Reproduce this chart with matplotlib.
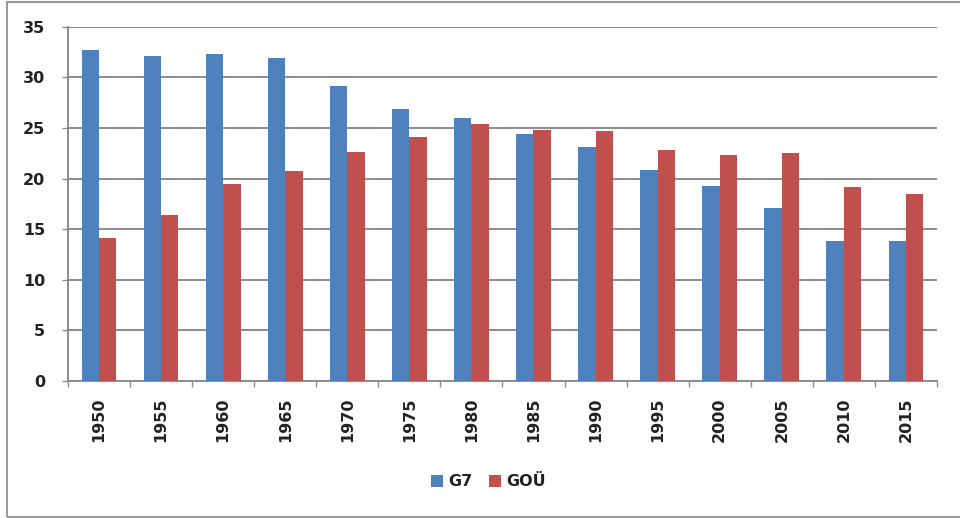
import numpy as np
import matplotlib.pyplot as plt
from matplotlib.patches import Rectangle

years = ["1950", "1955", "1960", "1965", "1970", "1975", "1980",
         "1985", "1990", "1995", "2000", "2005", "2010", "2015"]
g7 = [32.7, 32.15, 32.3, 31.95, 29.1, 26.85, 26.0,
      24.4, 23.1, 20.8, 19.3, 17.05, 13.8, 13.85]
gou = [14.1, 16.4, 19.45, 20.7, 22.6, 24.15, 25.4,
       24.8, 24.7, 22.85, 22.35, 22.5, 19.15, 18.45]

blue = "#4F81BD"
red = "#C0504D"
grid_col = "#8C8C8C"
text_col = "#222222"

plt.rcParams["font.weight"] = "bold"

fig = plt.figure(figsize=(9.6, 5.18), dpi=100)
ax = fig.add_axes([0.0708, 0.2645, 0.9052, 0.684])

x = np.arange(len(years))
w = 0.28
ax.bar(x - w / 2, g7, w, color=blue, label="G7", zorder=3)
ax.bar(x + w / 2, gou, w, color=red, label="GOÜ", zorder=3)

ax.set_xlim(-0.5, len(years) - 0.5)
ax.set_ylim(0, 35)
ax.set_yticks(range(0, 36, 5))
ax.yaxis.grid(True, color=grid_col, linewidth=1.4, zorder=0)

# category labels in the middle, tick marks between the groups
ax.set_xticks(x)
ax.set_xticklabels(years, rotation=90)
ax.set_xticks(np.arange(-0.5, len(years), 1), minor=True)
ax.tick_params(axis="x", which="major", length=0, pad=12,
               labelsize=11.5, labelcolor=text_col)
ax.tick_params(axis="x", which="minor", length=4.3, width=1, color=grid_col)
ax.tick_params(axis="y", length=4.3, width=1, color=grid_col, pad=12,
               labelsize=11.5, labelcolor=text_col)

for s in ["top", "right"]:
    ax.spines[s].set_visible(False)
for s in ["left", "bottom"]:
    ax.spines[s].set_color(grid_col)
    ax.spines[s].set_linewidth(1.4)

fig.legend(loc="center", bbox_to_anchor=(0.509, 0.07), ncol=2, frameon=False,
           fontsize=11.5, handlelength=0.75, handleheight=0.75,
           handletextpad=0.35, columnspacing=1.0, labelcolor=text_col)

# outer chart border
fig.patches.append(Rectangle((7 / 960, 1 / 518), 960, 515 / 518,
                             transform=fig.transFigure, fill=False,
                             edgecolor="#9A9A9A", linewidth=1.5))

fig.savefig("out.png", dpi=100)
